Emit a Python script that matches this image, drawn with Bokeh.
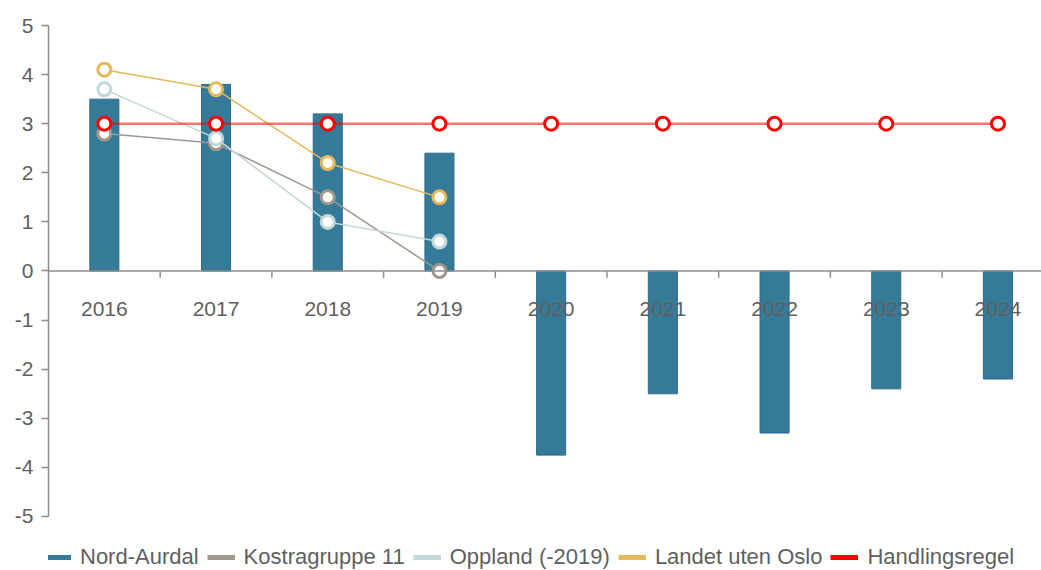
import math
from bokeh.plotting import figure
from bokeh.models import Range1d, FixedTicker, Span, Legend, LegendItem, CustomJSTickFormatter
from bokeh.embed import file_html
from bokeh.resources import INLINE
from bokeh.core.properties import value

years = ["2016", "2017", "2018", "2019", "2020", "2021", "2022", "2023", "2024"]
nord_aurdal = [3.5, 3.8, 3.2, 2.4, -3.75, -2.5, -3.3, -2.4, -2.2]
kostragruppe = [2.8, 2.6, 1.5, 0.0]
oppland = [3.7, 2.7, 1.0, 0.6]
landet = [4.1, 3.7, 2.2, 1.5]
handlingsregel = [3.0, 3.0, 3.0, 3.0, 3.0, 3.0, 3.0, 3.0, 3.0]
y_ticks = [-5, -4, -3, -2, -1, 0, 1, 2, 3, 4, 5]

FONT = "Liberation Sans"
BAR = "#367a9a"
GRAY = "#a0988f"
LIGHT = "#c3d7d7"
GOLD = "#e4b85b"
RED = "#ff0000"
TXT = "#5f5f5f"

xs = list(range(len(years)))

p = figure(width=1041, height=570, output_backend="svg", toolbar_location=None,
           x_range=Range1d(-0.5, 8.39), y_range=Range1d(-6.1, 5.0),
           min_border_left=48, min_border_right=0, min_border_top=25, min_border_bottom=0)
p.outline_line_color = None
p.grid.visible = False
p.xaxis.visible = False
p.background_fill_color = "white"

yax = p.yaxis[0]
yax.ticker = FixedTicker(ticks=y_ticks)
yax.formatter = CustomJSTickFormatter(code="return tick.toFixed(0);")
yax.bounds = (-5, 5)
yax.axis_line_color = "#8c8c8c"
yax.axis_line_width = 1.5
yax.major_tick_line_color = "#8c8c8c"
yax.major_tick_line_width = 1.5
yax.major_tick_out = 7
yax.major_tick_in = 0
yax.minor_tick_line_color = None
yax.major_label_text_font = FONT
yax.major_label_text_font_size = "21px"
yax.major_label_text_color = TXT
yax.major_label_standoff = 8

# bars
p.vbar(x=xs, top=nord_aurdal, bottom=0, width=0.26, fill_color=BAR,
       line_color="#2d6a87", line_width=1)

# zero axis line and category ticks
p.add_layout(Span(location=0, dimension="width", line_color="#8c8c8c", line_width=1.5))
tick_x = [i + 0.5 for i in range(len(years) - 1)]
p.segment(x0=tick_x, y0=[0] * len(tick_x), x1=tick_x, y1=[-0.14] * len(tick_x),
          line_color="#8c8c8c", line_width=1.5)

# year labels
p.text(x=xs, y=[0] * len(xs), text=years, text_align="center", text_baseline="middle",
       y_offset=38, text_font=value(FONT), text_font_size="21px", text_color=TXT)

def series(vals, color, lw=1.5, alpha=1.0):
    x = xs[:len(vals)]
    p.line(x, vals, line_color=color, line_width=lw, line_alpha=alpha)
    p.scatter(x, vals, size=13, marker="circle", fill_color="white",
              line_color=color, line_width=3)

series(kostragruppe, GRAY)
series(oppland, LIGHT)
series(landet, GOLD)
series(handlingsregel, RED, lw=2.5, alpha=0.55)

# legend with thick line swatches
names = ["Nord-Aurdal", "Kostragruppe 11", "Oppland (-2019)", "Landet uten Oslo", "Handlingsregel"]
colors = [BAR, GRAY, LIGHT, GOLD, RED]
items = []
for n, c in zip(names, colors):
    r = p.line(xs, [math.nan] * len(xs), line_color=c, line_width=5)
    items.append(LegendItem(label=n, renderers=[r]))

legend = Legend(items=items, orientation="horizontal", location=(-5, 0),
                label_text_font=FONT, label_text_font_size="22px", label_text_color=TXT,
                glyph_width=28, glyph_height=20, label_standoff=9, spacing=8,
                padding=0, margin=0, border_line_color=None, background_fill_alpha=0)
p.add_layout(legend)

open("out.html", "w").write(file_html(p, INLINE))
